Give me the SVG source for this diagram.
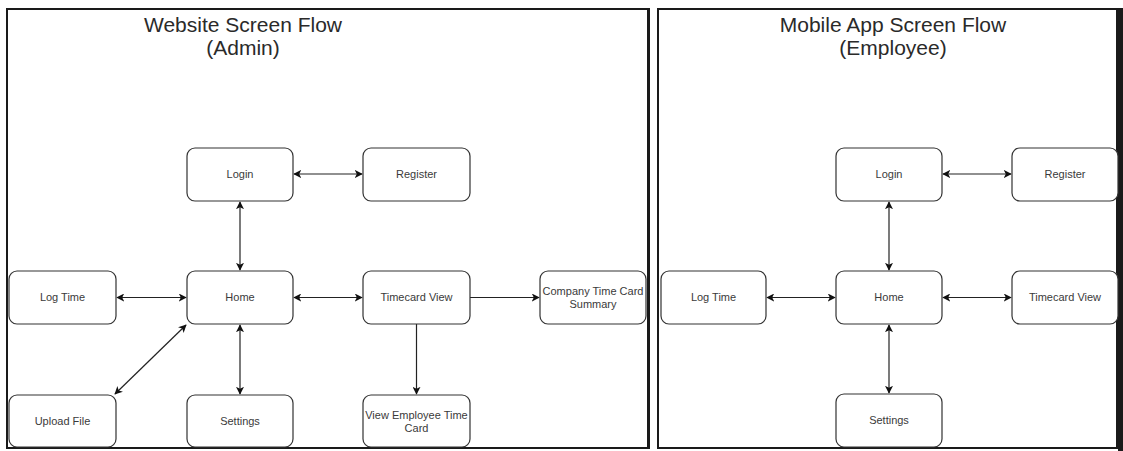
<svg xmlns="http://www.w3.org/2000/svg" width="1123" height="451" viewBox="0 0 1123 451">
<defs>
<style>
.frame{fill:#fff;stroke:#1a1a1a;stroke-width:2}
.node rect{fill:#fff;stroke:#333;stroke-width:1.2}
.lbl{font-family:"Liberation Sans",Arial,sans-serif;font-size:11px;fill:#3a3a3a;text-anchor:middle}
.title{font-family:"Liberation Sans",Arial,sans-serif;font-size:21px;fill:#2a2a2a;text-anchor:middle}
.conn line{stroke:#222;stroke-width:1.2;fill:none}
</style>
<marker id="ah" viewBox="0 0 10 10" refX="9" refY="5" markerWidth="8" markerHeight="8" markerUnits="userSpaceOnUse" orient="auto-start-reverse">
<path d="M0,0 L10,5 L0,10 L2.5,5 z" fill="#111"/>
</marker>
</defs>
<rect x="0" y="0" width="1123" height="451" fill="#fff"/>
<g id="panel-admin">
<rect class="frame" x="7" y="9" width="641" height="439"/>
<line x1="648.5" y1="8" x2="648.5" y2="449" stroke="#1a1a1a" stroke-width="3"/>
<text class="title" x="243" y="32">Website Screen Flow</text>
<text class="title" x="243" y="55">(Admin)</text>
</g>
<g id="panel-employee">
<rect class="frame" x="658" y="9" width="459" height="439"/>
<rect x="1118" y="8" width="5" height="443" fill="#1a1a1a"/>
<text class="title" x="893" y="32">Mobile App Screen Flow</text>
<text class="title" x="893" y="55">(Employee)</text>
</g>
<g id="connectors" class="conn">
<line x1="294" y1="174" x2="362" y2="174" marker-start="url(#ah)" marker-end="url(#ah)"/>
<line x1="240" y1="202" x2="240" y2="270" marker-start="url(#ah)" marker-end="url(#ah)"/>
<line x1="117" y1="297.5" x2="186" y2="297.5" marker-start="url(#ah)" marker-end="url(#ah)"/>
<line x1="294" y1="297.5" x2="362" y2="297.5" marker-start="url(#ah)" marker-end="url(#ah)"/>
<line x1="470" y1="297.5" x2="539" y2="297.5" marker-end="url(#ah)"/>
<line x1="416.5" y1="324" x2="416.5" y2="394" marker-end="url(#ah)"/>
<line x1="240" y1="325" x2="240" y2="394" marker-start="url(#ah)" marker-end="url(#ah)"/>
<line x1="186" y1="325" x2="115" y2="394" marker-start="url(#ah)" marker-end="url(#ah)"/>
<line x1="943" y1="174" x2="1011" y2="174" marker-start="url(#ah)" marker-end="url(#ah)"/>
<line x1="889" y1="202" x2="889" y2="270" marker-start="url(#ah)" marker-end="url(#ah)"/>
<line x1="767" y1="297.5" x2="835" y2="297.5" marker-start="url(#ah)" marker-end="url(#ah)"/>
<line x1="943" y1="297.5" x2="1011" y2="297.5" marker-start="url(#ah)" marker-end="url(#ah)"/>
<line x1="889" y1="325" x2="889" y2="393" marker-start="url(#ah)" marker-end="url(#ah)"/>
</g>
<g id="a-login" class="node"><rect x="187" y="148" width="106" height="53" rx="8"/><text class="lbl" x="240" y="178">Login</text></g>
<g id="a-register" class="node"><rect x="363" y="148" width="107" height="53" rx="8"/><text class="lbl" x="416.5" y="178">Register</text></g>
<g id="a-logtime" class="node"><rect x="9" y="271" width="107" height="53" rx="8"/><text class="lbl" x="62.5" y="301">Log Time</text></g>
<g id="a-home" class="node"><rect x="187" y="271" width="106" height="53" rx="8"/><text class="lbl" x="240" y="301">Home</text></g>
<g id="a-timecard" class="node"><rect x="363" y="271" width="107" height="53" rx="8"/><text class="lbl" x="416.5" y="301">Timecard View</text></g>
<g id="a-summary" class="node"><rect x="540" y="271" width="106" height="53" rx="8"/><text class="lbl" x="593" y="295">Company Time Card</text><text class="lbl" x="593" y="308">Summary</text></g>
<g id="a-upload" class="node"><rect x="9" y="395" width="107" height="52" rx="8"/><text class="lbl" x="62.5" y="425">Upload File</text></g>
<g id="a-settings" class="node"><rect x="187" y="395" width="106" height="52" rx="8"/><text class="lbl" x="240" y="425">Settings</text></g>
<g id="a-viewemp" class="node"><rect x="363" y="395" width="107" height="52" rx="8"/><text class="lbl" x="416.5" y="419">View Employee Time</text><text class="lbl" x="416.5" y="432">Card</text></g>
<g id="e-login" class="node"><rect x="836" y="148" width="106" height="53" rx="8"/><text class="lbl" x="889" y="178">Login</text></g>
<g id="e-register" class="node"><rect x="1012" y="148" width="106" height="53" rx="8"/><text class="lbl" x="1065" y="178">Register</text></g>
<g id="e-logtime" class="node"><rect x="661" y="271" width="105" height="53" rx="8"/><text class="lbl" x="713.5" y="301">Log Time</text></g>
<g id="e-home" class="node"><rect x="836" y="271" width="106" height="53" rx="8"/><text class="lbl" x="889" y="301">Home</text></g>
<g id="e-timecard" class="node"><rect x="1012" y="271" width="106" height="53" rx="8"/><text class="lbl" x="1065" y="301">Timecard View</text></g>
<g id="e-settings" class="node"><rect x="836" y="394" width="106" height="53" rx="8"/><text class="lbl" x="889" y="424">Settings</text></g>
</svg>
